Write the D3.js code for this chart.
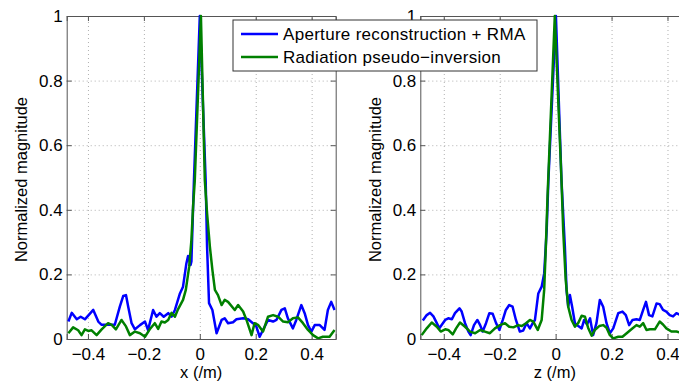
<!DOCTYPE html>
<html>
<head>
<meta charset="utf-8">
<script src="https://cdn.jsdelivr.net/npm/d3@7"></script>
<style>
  body { margin: 0; background: #fff; }
  text { font-family: "Liberation Sans", Arial, Helvetica, sans-serif; fill: #000; }
</style>
</head>
<body>
<svg id="chart" width="679" height="382"></svg>
<script>
const xTicks = [-0.4, -0.2, 0, 0.2, 0.4];
const yTicks = [0, 0.2, 0.4, 0.6, 0.8, 1];
const seriesNames = ['Aperture reconstruction + RMA', 'Radiation pseudo\u2212inversion'];
const seriesColors = ['#0000ff', '#008000'];

// x cut: [position (/m), normalized magnitude]
const xAperture = [
  [-0.470, 0.054], [-0.458, 0.081], [-0.440, 0.061], [-0.426, 0.069], [-0.411, 0.061],
  [-0.381, 0.090], [-0.363, 0.054], [-0.351, 0.044], [-0.328, 0.044], [-0.304, 0.044],
  [-0.286, 0.100], [-0.274, 0.133], [-0.264, 0.136], [-0.256, 0.100], [-0.244, 0.049],
  [-0.232, 0.030], [-0.214, 0.043], [-0.196, 0.054], [-0.185, 0.028], [-0.167, 0.090],
  [-0.155, 0.069], [-0.143, 0.080], [-0.129, 0.069], [-0.113, 0.080], [-0.101, 0.069],
  [-0.089, 0.090], [-0.071, 0.141], [-0.060, 0.162], [-0.048, 0.234], [-0.042, 0.257],
  [-0.033, 0.229], [-0.030, 0.240], [-0.021, 0.490], [0.000, 1.000], [0.021, 0.490],
  [0.026, 0.286], [0.033, 0.111], [0.045, 0.090], [0.060, 0.018], [0.078, 0.059],
  [0.089, 0.064], [0.101, 0.049], [0.119, 0.052], [0.131, 0.061], [0.155, 0.064],
  [0.173, 0.061], [0.190, 0.049], [0.202, 0.039], [0.214, 0.007], [0.226, 0.028],
  [0.244, 0.059], [0.262, 0.054], [0.274, 0.059], [0.292, 0.090], [0.304, 0.095],
  [0.315, 0.064], [0.333, 0.033], [0.345, 0.059], [0.363, 0.105], [0.375, 0.080],
  [0.387, 0.043], [0.399, 0.023], [0.411, 0.043], [0.429, 0.043], [0.446, 0.028],
  [0.458, 0.090], [0.470, 0.115], [0.482, 0.090]
];
const xRadiation = [
  [-0.470, 0.018], [-0.453, 0.036], [-0.435, 0.027], [-0.423, 0.012], [-0.411, 0.030],
  [-0.399, 0.025], [-0.387, 0.027], [-0.369, 0.012], [-0.351, 0.030], [-0.328, 0.049],
  [-0.315, 0.044], [-0.300, 0.030], [-0.280, 0.059], [-0.264, 0.039], [-0.250, 0.012],
  [-0.232, 0.023], [-0.214, 0.018], [-0.196, 0.007], [-0.179, 0.030], [-0.161, 0.049],
  [-0.149, 0.031], [-0.137, 0.054], [-0.125, 0.051], [-0.113, 0.059], [-0.101, 0.081],
  [-0.089, 0.069], [-0.078, 0.092], [-0.060, 0.121], [-0.050, 0.152], [-0.038, 0.224],
  [-0.030, 0.306], [-0.024, 0.410], [-0.018, 0.490], [0.004, 1.000], [0.018, 0.490],
  [0.026, 0.389], [0.036, 0.286], [0.045, 0.214], [0.054, 0.152], [0.065, 0.136],
  [0.078, 0.105], [0.089, 0.121], [0.101, 0.115], [0.125, 0.090], [0.137, 0.105],
  [0.155, 0.085], [0.167, 0.059], [0.185, 0.012], [0.196, 0.049], [0.208, 0.044],
  [0.226, 0.023], [0.244, 0.069], [0.262, 0.074], [0.280, 0.069], [0.298, 0.054],
  [0.315, 0.052], [0.333, 0.064], [0.351, 0.067], [0.369, 0.049], [0.387, 0.028],
  [0.405, 0.012], [0.423, 0.002], [0.440, 0.007], [0.464, 0.007], [0.482, 0.028]
];

// z cut
const zAperture = [
  [-0.475, 0.057], [-0.461, 0.074], [-0.449, 0.081], [-0.437, 0.070], [-0.425, 0.049],
  [-0.416, 0.033], [-0.395, 0.059], [-0.384, 0.064], [-0.371, 0.061], [-0.360, 0.080],
  [-0.344, 0.095], [-0.336, 0.085], [-0.324, 0.049], [-0.312, 0.023], [-0.304, 0.012],
  [-0.292, 0.043], [-0.280, 0.059], [-0.270, 0.043], [-0.261, 0.023], [-0.249, 0.049],
  [-0.237, 0.080], [-0.225, 0.078], [-0.213, 0.049], [-0.201, 0.028], [-0.189, 0.059],
  [-0.178, 0.090], [-0.166, 0.105], [-0.154, 0.100], [-0.142, 0.059], [-0.128, 0.023],
  [-0.116, 0.026], [-0.104, 0.049], [-0.092, 0.033], [-0.082, 0.049], [-0.074, 0.059],
  [-0.062, 0.141], [-0.050, 0.162], [-0.041, 0.203], [-0.032, 0.337], [-0.026, 0.490],
  [0.001, 1.000], [0.021, 0.490], [0.033, 0.286], [0.039, 0.152], [0.045, 0.100],
  [0.051, 0.136], [0.059, 0.100], [0.069, 0.049], [0.081, 0.040], [0.093, 0.033],
  [0.102, 0.059], [0.112, 0.045], [0.123, 0.064], [0.134, 0.012], [0.146, 0.049],
  [0.158, 0.121], [0.170, 0.100], [0.182, 0.049], [0.194, 0.018], [0.206, 0.033],
  [0.224, 0.080], [0.239, 0.085], [0.251, 0.074], [0.263, 0.043], [0.275, 0.059],
  [0.289, 0.061], [0.301, 0.059], [0.313, 0.090], [0.323, 0.115], [0.334, 0.074],
  [0.346, 0.070], [0.361, 0.110], [0.372, 0.108], [0.384, 0.090], [0.396, 0.085],
  [0.408, 0.074], [0.420, 0.070], [0.432, 0.080], [0.445, 0.075]
];
const zRadiation = [
  [-0.479, 0.012], [-0.461, 0.033], [-0.443, 0.051], [-0.425, 0.038], [-0.411, 0.023],
  [-0.395, 0.030], [-0.384, 0.028], [-0.368, 0.014], [-0.356, 0.033], [-0.342, 0.051],
  [-0.324, 0.038], [-0.306, 0.023], [-0.288, 0.018], [-0.270, 0.028], [-0.253, 0.023],
  [-0.235, 0.018], [-0.217, 0.033], [-0.199, 0.043], [-0.181, 0.049], [-0.166, 0.038],
  [-0.151, 0.036], [-0.134, 0.043], [-0.121, 0.040], [-0.106, 0.049], [-0.092, 0.059],
  [-0.080, 0.054], [-0.064, 0.028], [-0.050, 0.059], [-0.041, 0.152], [-0.035, 0.286],
  [-0.029, 0.440], [-0.003, 1.000], [0.021, 0.490], [0.027, 0.337], [0.036, 0.183],
  [0.045, 0.100], [0.057, 0.059], [0.069, 0.038], [0.081, 0.050], [0.093, 0.072],
  [0.105, 0.069], [0.116, 0.035], [0.129, 0.010], [0.140, 0.028], [0.156, 0.040],
  [0.170, 0.043], [0.182, 0.035], [0.194, 0.012], [0.206, 0.002], [0.224, 0.007],
  [0.239, 0.007], [0.254, 0.018], [0.271, 0.030], [0.289, 0.043], [0.301, 0.038],
  [0.313, 0.049], [0.325, 0.028], [0.337, 0.030], [0.355, 0.030], [0.372, 0.054],
  [0.384, 0.045], [0.396, 0.033], [0.414, 0.023], [0.432, 0.023], [0.445, 0.020]
];

const svg = d3.select('#chart');
const plotTop = 16, plotW = 269, plotH = 323;
const fmt = d3.format('~g');

function drawPanel(left, xDomain, series, xLabel, id) {
  const g = svg.append('g').attr('transform', `translate(${left},${plotTop})`);
  const x = d3.scaleLinear().domain(xDomain).range([0, plotW]);
  const y = d3.scaleLinear().domain([0, 1]).range([plotH, 0]);

  svg.append('clipPath').attr('id', id)
    .append('rect').attr('width', plotW).attr('height', plotH + 2).attr('y', -2);

  // Grid
  g.append('g').attr('class', 'grid')
    .attr('transform', `translate(0,${plotH})`)
    .call(d3.axisBottom(x).tickValues(xTicks).tickSize(-plotH).tickFormat(''));
  g.append('g').attr('class', 'grid')
    .call(d3.axisLeft(y).tickValues(yTicks).tickSize(-plotW).tickFormat(''));
  g.selectAll('.grid .domain').remove();
  g.selectAll('.grid line')
    .attr('stroke', '#b0b0b0').attr('stroke-dasharray', '1,3');

  // Axes box with inward ticks
  const axes = [
    g.append('g').attr('transform', `translate(0,${plotH})`)
      .call(d3.axisBottom(x).tickValues(xTicks).tickSize(-5).tickPadding(9).tickFormat(fmt)),
    g.append('g')
      .call(d3.axisLeft(y).tickValues(yTicks).tickSize(-5).tickPadding(4).tickFormat(fmt)),
    g.append('g')
      .call(d3.axisTop(x).tickValues(xTicks).tickSize(-5).tickFormat('')),
    g.append('g').attr('transform', `translate(${plotW},0)`)
      .call(d3.axisRight(y).tickValues(yTicks).tickSize(-5).tickFormat(''))
  ];
  axes.forEach(a => {
    a.selectAll('path, line').attr('stroke', '#555');
    a.selectAll('text').attr('font-size', 17).attr('fill', '#000')
      .style('font-family', '"Liberation Sans", Arial, sans-serif');
  });

  // Lines
  const line = d3.line().x(d => x(d[0])).y(d => y(d[1]));
  series.forEach((s, i) => {
    g.append('path').datum(s)
      .attr('clip-path', `url(#${id})`)
      .attr('fill', 'none').attr('stroke', seriesColors[i])
      .attr('stroke-width', 2.5).attr('stroke-linejoin', 'round')
      .attr('d', line);
  });

  // Labels
  g.append('text')
    .attr('transform', `translate(-45,${plotH / 2 + 2}) rotate(-90)`)
    .attr('text-anchor', 'middle').attr('dy', '0.35em')
    .attr('font-size', 16.5).text('Normalized magnitude');
  g.append('text')
    .attr('x', plotW / 2).attr('y', plotH + 39)
    .attr('text-anchor', 'middle').attr('font-size', 16.5).text(xLabel);
}

drawPanel(420.3, [-0.484, 0.478], [zAperture, zRadiation], 'z (/m)', 'clipZ');
drawPanel(66.7, [-0.476, 0.486], [xAperture, xRadiation], 'x (/m)', 'clipX');

// Legend
const legend = svg.append('g').attr('transform', 'translate(233,20)');
legend.append('rect').attr('width', 304).attr('height', 51)
  .attr('fill', '#fff').attr('stroke', '#333');
seriesNames.forEach((name, i) => {
  const ly = 14 + i * 23;
  legend.append('line').attr('x1', 8).attr('x2', 45).attr('y1', ly).attr('y2', ly)
    .attr('stroke', seriesColors[i]).attr('stroke-width', 2.5);
  legend.append('text').attr('x', 50).attr('y', ly).attr('dy', '0.35em')
    .attr('font-size', 17).attr('letter-spacing', 0.3).text(name);
});
</script>
</body>
</html>
